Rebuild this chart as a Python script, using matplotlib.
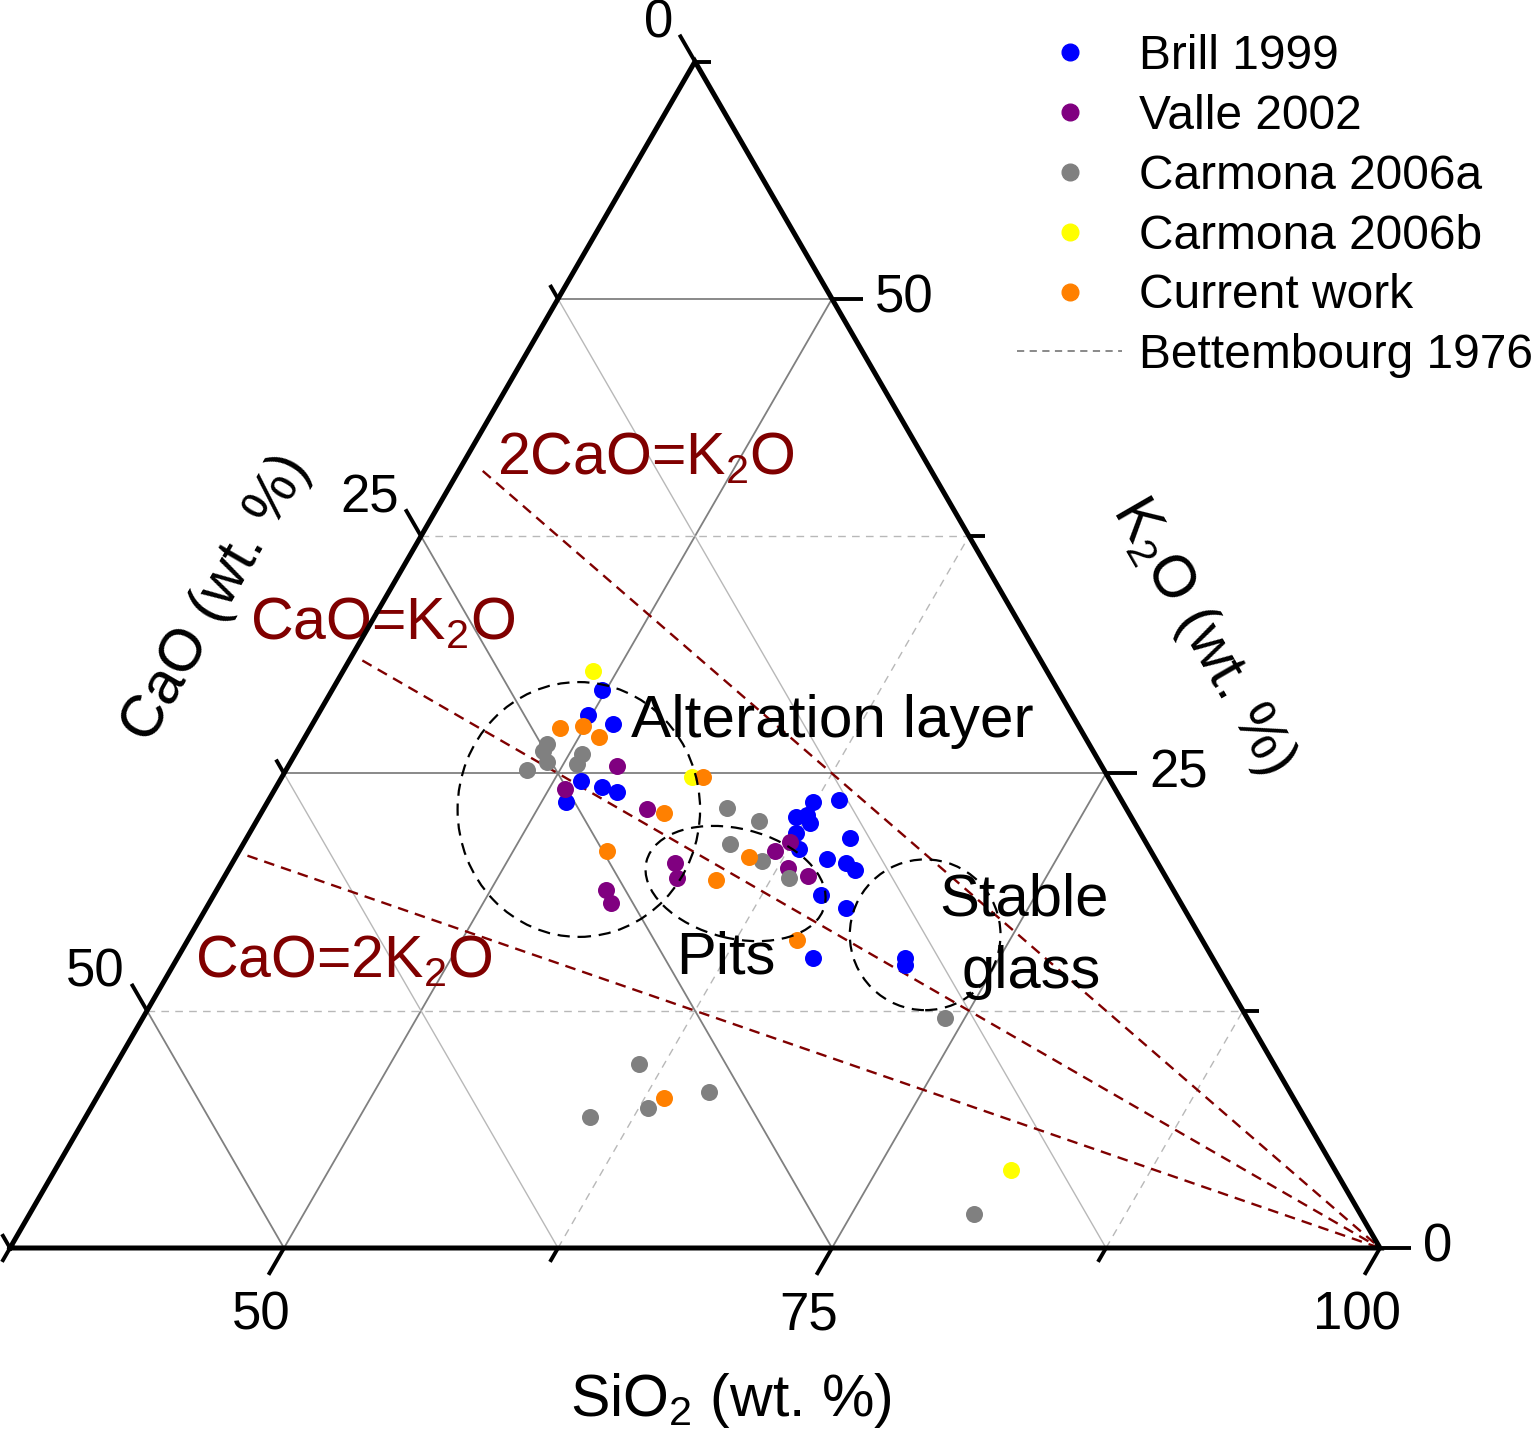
import numpy as np
import matplotlib.pyplot as plt
from matplotlib.lines import Line2D
from matplotlib.patches import Ellipse

plt.rcParams['font.family'] = ['Liberation Sans', 'DejaVu Sans']
plt.rcParams['mathtext.fontset'] = 'custom'
plt.rcParams['mathtext.rm'] = 'Liberation Sans'
plt.rcParams['mathtext.it'] = 'Liberation Sans:italic'

# compositions in wt. % (SiO2, CaO, K2O)
brill_sio2 = [49.8, 49.9, 51.2, 51.2, 52.4, 53.2, 51.2, 62.4, 63.5, 62.0, 62.4, 62.8,
              62.5, 62.9, 65.0, 64.5, 65.5, 66.1, 65.2, 66.7, 66.5, 70.7, 70.9]
brill_cao = [20.8, 22.1, 21.2, 24.1, 23.4, 22.8, 25.4, 14.1, 12.9, 15.3, 14.7, 14.8,
             15.7, 16.0, 13.4, 15.0, 14.2, 14.0, 16.2, 15.4, 18.2, 14.0, 14.2]
brill_k2o = [29.4, 28.1, 27.6, 24.6, 24.3, 24.0, 23.5, 23.5, 23.6, 22.7, 22.8, 22.4,
             21.9, 21.0, 21.6, 20.5, 20.3, 19.9, 18.6, 17.9, 15.3, 15.3, 14.9]

valle_sio2 = [52.5, 50.7, 55.0, 57.7, 58.2, 55.3, 55.8, 62.4, 61.9, 63.0, 64.2]
valle_cao = [22.1, 25.1, 21.9, 22.0, 22.3, 25.9, 26.0, 16.2, 17.1, 17.0, 16.3]
valle_k2o = [25.4, 24.2, 23.1, 20.3, 19.5, 18.9, 18.2, 21.4, 20.9, 20.0, 19.6]

carm_a_sio2 = [48.7, 48.7, 49.2, 48.5, 50.6, 50.6, 58.6, 60.4, 59.7, 61.6, 63.3, 74.1,
               61.4, 62.9, 60.5, 65.3, 80.6]
carm_a_cao = [24.7, 25.1, 25.2, 26.3, 23.4, 23.9, 18.2, 17.1, 19.0, 18.0, 17.2, 13.8,
              29.0, 29.7, 32.6, 26.5, 17.6]
carm_a_k2o = [26.5, 26.2, 25.6, 25.2, 26.0, 25.5, 23.2, 22.5, 21.3, 20.4, 19.5, 12.1,
              9.7, 7.4, 6.9, 8.2, 1.8]

carm_b_sio2 = [48.9, 56.2, 81.1]
carm_b_cao = [20.7, 19.0, 14.8]
carm_b_k2o = [30.4, 24.8, 4.1]

curr_sio2 = [48.9, 49.9, 50.9, 56.7, 55.8, 54.2, 60.9, 60.0, 65.3, 63.4]
curr_cao = [23.7, 22.6, 22.2, 18.5, 21.2, 24.8, 18.5, 20.6, 18.5, 28.7]
curr_k2o = [27.4, 27.5, 26.9, 24.8, 22.9, 20.9, 20.6, 19.4, 16.2, 7.9]

# Bettembourg 1976 ratio lines, from near the left edge to pure SiO2
bett_labels = ['2CaO=K$_2$O', 'CaO=K$_2$O', 'CaO=2K$_2$O']
bett_start_sio2 = [38.6, 38.1, 38.0]
bett_cao_part = [1, 1, 2]
bett_k2o_part = [2, 1, 1]

# regions (centre composition)
region_names = ['Alteration layer', 'Pits', 'Stable', 'glass']
region_sio2 = [51.9, 61.0, 71.0]
region_cao = [25.0, 19.8, 12.5]
region_k2o = [23.1, 19.2, 16.5]

S0, SPAN = 37.5, 62.5
H = np.sqrt(3) / 2


def tern(sio2, cao, k2o):
    s = np.asarray(sio2, float)
    c = np.asarray(cao, float)
    k = np.asarray(k2o, float)
    tot = s + c + k
    s, k = s * 100 / tot, k * 100 / tot
    r = (s - S0) / SPAN
    b = k / SPAN
    return r + 0.5 * b, b * H


PX = 1370.0  # pixels per triangle side
fig = plt.figure(figsize=(15.33, 14.4), dpi=100)
ax = fig.add_axes([0, 0, 1, 1])
ax.set_xlim(-10 / PX, 1523 / PX)
ax.set_ylim(-192 / PX, 1248 / PX)
ax.axis('off')


def at(px, py):
    # layout helper: picture pixel -> axes data position
    return (px - 10) / PX, (1248 - py) / PX


# grid
mid_gray, light_gray = '#808080', '#b8b8b8'
def seg(p1, p2, **kw):
    x1, y1 = tern(*p1)
    x2, y2 = tern(*p2)
    ax.plot([x1, x2], [y1, y2], zorder=1, **kw)

major_kw = dict(color=mid_gray, lw=1.3)
minor_solid = dict(color=light_gray, lw=1.0)
minor_dash = dict(color=light_gray, lw=1.0, ls=(0, (5.5, 4.5)))
for s, kw in [(50, major_kw), (75, major_kw), (62.5, minor_dash), (87.5, minor_dash)]:
    seg((s, 100 - s, 0), (s, 0, 100 - s), **kw)
for k, kw in [(25, major_kw), (50, major_kw), (12.5, minor_dash), (37.5, minor_dash)]:
    seg((S0, 100 - S0 - k, k), (100 - k, 0, k), **kw)
for c, kw in [(25, major_kw), (50, major_kw), (12.5, minor_solid), (37.5, minor_solid)]:
    seg((S0, c, 100 - S0 - c), (100 - c, c, 0), **kw)

# Bettembourg lines
dark_red = '#800000'
for s0, cp, kp in zip(bett_start_sio2, bett_cao_part, bett_k2o_part):
    rest = 100 - s0
    seg((s0, rest * cp / (cp + kp), rest * kp / (cp + kp)), (100, 0, 0),
        color=dark_red, lw=1.7, ls=(0, (4.5, 3)))

# data points
series = [
    ('Brill 1999', '#0000ff', brill_sio2, brill_cao, brill_k2o),
    ('Valle 2002', '#800080', valle_sio2, valle_cao, valle_k2o),
    ('Carmona 2006a', '#808080', carm_a_sio2, carm_a_cao, carm_a_k2o),
    ('Carmona 2006b', '#ffff00', carm_b_sio2, carm_b_cao, carm_b_k2o),
    ('Current work', '#ff8000', curr_sio2, curr_cao, curr_k2o),
]
for name, col, s, c, k in series:
    x, y = tern(s, c, k)
    ax.scatter(x, y, s=150, color=col, linewidths=0, zorder=3)

# dashed regions
ell_w = [0.177, 0.134, 0.110]
ell_h = [0.186, 0.080, 0.110]
ell_a = [0, -14, 0]
for i in range(3):
    cx, cy = tern(region_sio2[i], region_cao[i], region_k2o[i])
    ax.add_patch(Ellipse((cx, cy), ell_w[i], ell_h[i], angle=ell_a[i], fill=False,
                         ec='black', lw=1.6, ls=(0, (5.5, 3.5)), zorder=4))

# triangle frame
corners = [(S0, 100 - S0, 0), (100, 0, 0), (S0, 0, 100 - S0), (S0, 100 - S0, 0)]
fx, fy = tern(*zip(*corners))
ax.plot(fx, fy, color='black', lw=3.6, solid_joinstyle='miter', zorder=5)

# ticks and tick labels
tick_vals = [0, 12.5, 25, 37.5, 50, 62.5]
maj_len, min_len = 31 / PX, 16 / PX
d_bot = np.array([-0.5, -H])
d_left = np.array([-0.5, H])
d_right = np.array([1.0, 0.0])
tick_fs = 38
for v in tick_vals:
    major = v in (0, 25, 50)
    L = maj_len if major else min_len
    # SiO2 (bottom)
    s = 100 - v
    p = np.array(tern(s, v, 0))
    q = p + d_bot * (maj_len if s in (50, 75, 100) else min_len)
    ax.plot([p[0], q[0]], [p[1], q[1]], color='black', lw=2.8, zorder=5,
            solid_capstyle='butt')
    if s in (50, 75, 100):
        ax.text(p[0] - 23 / PX, p[1] - 68 / PX, f'{s:g}', fontsize=tick_fs,
                ha='center', va='center')
    # CaO (left)
    p = np.array(tern(S0, v, 100 - S0 - v))
    q = p + d_left * L
    ax.plot([p[0], q[0]], [p[1], q[1]], color='black', lw=2.8, zorder=5,
            solid_capstyle='butt')
    if major:
        ax.text(p[0] - 22 / PX, p[1] + 38 / PX, f'{v:g}', fontsize=tick_fs,
                ha='right', va='center')
    # K2O (right)
    p = np.array(tern(100 - v, 0, v))
    q = p + d_right * L
    ax.plot([p[0], q[0]], [p[1], q[1]], color='black', lw=2.8, zorder=5,
            solid_capstyle='butt')
    if major:
        ax.text(p[0] + 43 / PX, p[1], f'{v:g}', fontsize=tick_fs,
                ha='left', va='center')

# axis titles
ax.text(*at(731, 1400), 'SiO$_2$ (wt. %)', fontsize=42.5, ha='center', va='center')
ax.text(*at(216, 598), 'CaO (wt. %)', fontsize=42.5, rotation=60,
        ha='center', va='center')
ax.text(*at(1203, 636), 'K$_2$O (wt. %)', fontsize=42.5, rotation=-60,
        ha='center', va='center')

# ratio line labels
for lab, pos in zip(bett_labels, [(497, 475), (250, 640), (195, 978)]):
    ax.text(*at(*pos), lab, fontsize=42.5, color=dark_red, ha='left', va='baseline')

# region labels
ax.text(*at(631, 737), region_names[0], fontsize=43.5, ha='left', va='baseline',
        zorder=6)
ax.text(*at(676, 974), region_names[1], fontsize=43, ha='left', va='baseline',
        zorder=6)
ax.text(*at(1024, 915), region_names[2], fontsize=43, ha='center', va='baseline',
        zorder=6)
ax.text(*at(1031, 988), region_names[3], fontsize=43, ha='center', va='baseline',
        zorder=6)

# legend
handles = [Line2D([], [], ls='none', marker='o', ms=12, mfc=col, mec=col)
           for _, col, *_ in series]
handles.append(Line2D([], [], color='#808080', lw=1.3, ls=(0, (4, 3))))
labels = [n for n, *_ in series] + ['Bettembourg 1976']
ax.legend(handles, labels, loc='upper left',
          bbox_to_anchor=(1017 / 1533, 1 - 34 / 1440),
          bbox_transform=fig.transFigure, frameon=False, fontsize=34.5,
          handlelength=2.2, handletextpad=0.35, labelspacing=0.31,
          borderpad=0, borderaxespad=0)

fig.savefig('out.png', dpi=100)
